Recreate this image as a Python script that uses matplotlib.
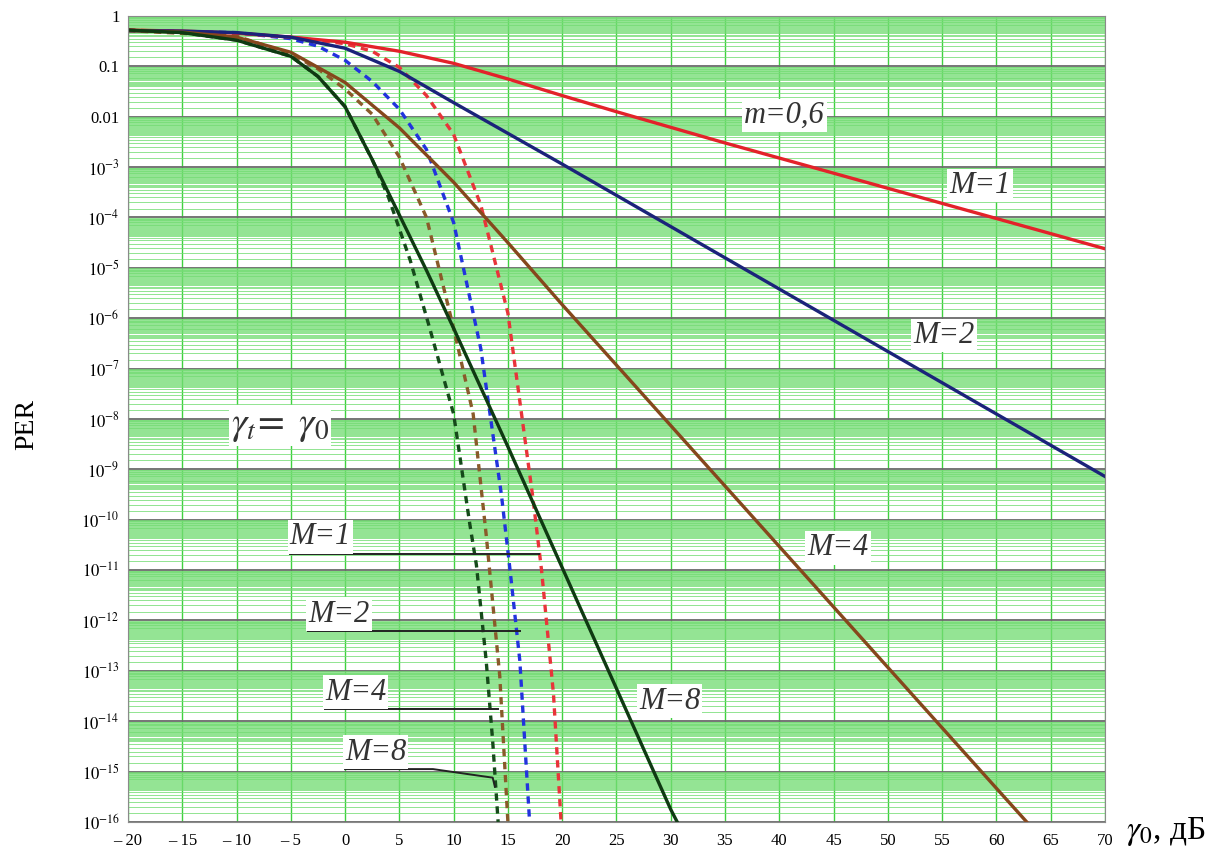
import numpy as np
import matplotlib.pyplot as plt

plt.rcParams['font.family'] = ['Liberation Serif', 'DejaVu Serif']
plt.rcParams['mathtext.fontset'] = 'stix'

# gamma_0 in dB and log10(PER)
# solid curves: m=0,6, M = 1, 2, 4, 8
x_m1 = [-20, -15, -10, -5, 0, 5, 10, 15, 20, 25, 30, 35, 40, 45, 50, 55, 60, 65, 70]
lg_m1 = [-0.28, -0.30, -0.34, -0.42, -0.52, -0.70, -0.94, -1.25, -1.58, -1.90,
         -2.21, -2.52, -2.82, -3.12, -3.42, -3.72, -4.02, -4.32, -4.62]

x_m2 = [-20, -15, -10, -5, 0, 5, 10, 15, 20, 25, 30, 35, 40, 45, 50, 55, 60, 65, 70]
lg_m2 = [-0.29, -0.30, -0.33, -0.42, -0.64, -1.10, -1.72, -2.33, -2.94, -3.56,
         -4.18, -4.80, -5.42, -6.04, -6.66, -7.28, -7.90, -8.52, -9.14]

x_m4 = [-20, -15, -10, -5, 0, 5, 10, 15, 20, 25, 30, 35, 40, 45, 50, 55, 60, 62.8]
lg_m4 = [-0.29, -0.32, -0.42, -0.72, -1.32, -2.22, -3.30, -4.50, -5.73, -6.93,
         -8.13, -9.33, -10.53, -11.73, -12.93, -14.13, -15.33, -16.0]

x_m8 = [-20, -15, -10, -5, -2.5, 0, 2.5, 5, 7.5, 10, 15, 20, 25, 30, 30.6]
lg_m8 = [-0.28, -0.33, -0.48, -0.80, -1.20, -1.80, -2.85, -3.95, -5.05, -6.20,
         -8.55, -10.95, -13.35, -15.75, -16.0]

# dashed curves (gamma_t = gamma_0)
xd_m1 = [-20, -10, -5, 0, 2.5, 5, 7.5, 10, 12.5, 15, 17.3, 18.1, 19.2, 19.9]
lgd_m1 = [-0.28, -0.34, -0.42, -0.55, -0.70, -1.02, -1.58, -2.35, -3.75, -5.90,
          -9.56, -11.0, -13.46, -16.0]

xd_m2 = [-20, -10, -5, -2.5, 0, 2.5, 5, 7.5, 10, 12.5, 14.4, 15.2, 16.1, 17.0]
lgd_m2 = [-0.29, -0.33, -0.45, -0.60, -0.88, -1.30, -1.85, -2.65, -4.10, -6.60,
          -9.50, -11.0, -12.8, -16.0]

xd_m4 = [-20, -10, -5, -2.5, 0, 2.5, 5, 7.5, 10, 11.8, 13, 14.25, 15]
lgd_m4 = [-0.29, -0.40, -0.75, -1.05, -1.45, -1.95, -2.80, -4.00, -6.20, -7.90,
          -10.3, -13.1, -16.0]

xd_m8 = [-20, -15, -10, -5, -2.5, 0, 2.5, 4, 6, 7.8, 10, 11.5, 12.1, 13, 13.6, 14.1]
lgd_m8 = [-0.28, -0.33, -0.48, -0.80, -1.20, -1.80, -2.85, -3.60, -4.85, -6.20,
          -7.90, -10.1, -10.9, -12.8, -14.4, -16.0]

x_ticks = list(range(-20, 75, 5))
x_labels = [f"\u2013 {-v}" if v < 0 else str(v) for v in x_ticks]
y_exps = list(range(0, -17, -1))
y_labels = ['1', '0.1', '0.01'] + [rf'$10^{{{e}}}$' for e in y_exps[3:]]

fig = plt.figure(figsize=(12.27, 8.55), dpi=100)
ax = fig.add_axes([0.1043, 0.0386, 0.7962, 0.9427])
ax.set_yscale('log')

solid = [(x_m1, lg_m1, '#e3222a'), (x_m2, lg_m2, '#1b237a'),
         (x_m4, lg_m4, '#86471c'), (x_m8, lg_m8, '#0f3a12')]
dashed = [(xd_m1, lgd_m1, '#e8343a'), (xd_m2, lgd_m2, '#2233dd'),
          (xd_m4, lgd_m4, '#8a5a2a'), (xd_m8, lgd_m8, '#154a1a')]
for xs, lg, c in dashed:
    ax.plot(xs, 10.0 ** np.array(lg), color=c, lw=2.4, ls=(0, (2.2, 1.7)))
for xs, lg, c in solid:
    ax.plot(xs, 10.0 ** np.array(lg), color=c, lw=2.4)

ax.set_xlim(-20, 70)
ax.set_ylim(1e-16, 1)

# grid in the Mathcad style: sparse lines low in a decade, dense band at the top
minor = []
for e in range(-16, 0):
    for m in [1.5, 2, 2.5, 3, 3.5] + list(np.arange(4, 10, 0.25)):
        minor.append(m * 10.0 ** e)
ax.set_yticks(minor, minor=True)
ax.set_yticklabels([], minor=True)
ax.set_yticks([10.0 ** e for e in y_exps], y_labels)
ax.set_xticks(x_ticks, x_labels)
ax.grid(which='minor', axis='y', color='#74dc74', lw=0.55)
ax.grid(which='major', axis='y', color='#6a6a6a', lw=1.3)
ax.grid(which='major', axis='x', color='#3fd13f', lw=1.0)
ax.set_axisbelow(True)

ax.tick_params(which='both', length=0)
ax.tick_params(axis='y', labelsize=12, pad=6)
ax.tick_params(axis='x', labelsize=12, pad=8)
for s in ax.spines.values():
    s.set_color('#8a8a8a')

box = dict(facecolor='white', edgecolor='none', pad=1.5)
txt = dict(style='italic', fontsize=22, color='#333333')
ax.text(40.5, 10 ** -1.97, 'm=0,6', ha='center', va='center', bbox=box, **txt)
ax.text(58.5, 10 ** -3.36, 'M=1', ha='center', va='center', bbox=box, **txt)
ax.text(55.2, 10 ** -6.34, 'M=2', ha='center', va='center', bbox=box, **txt)
ax.text(45.4, 10 ** -10.56, 'M=4', ha='center', va='center', bbox=box, **txt)
ax.text(29.9, 10 ** -13.6, 'M=8', ha='center', va='center', bbox=box, **txt)
ax.text(-6.0, 10 ** -8.13, r'$\gamma_t\!=\ \gamma_0$', ha='center', va='center',
        fontsize=28, color='#333333', bbox=box)

# labels of the dashed curves with leader lines
leaders = [('M=1', [-5.1, 17.9], [-10.68, -10.68]),
           ('M=2', [-3.4, 16.1], [-12.21, -12.21]),
           ('M=4', [-1.86, 14.07], [-13.76, -13.76]),
           ('M=8', [0.0, 8.1, 13.6, 13.8], [-14.95, -14.95, -15.12, -15.3])]
for lab, xs, lg in leaders:
    ax.plot(xs, 10.0 ** np.array(lg), color='#222222', lw=1.4)
    ax.text(xs[0], 10 ** (lg[0] + 0.05), lab, ha='left', va='bottom', bbox=box, **txt)

fig.text(0.022, 0.503, 'PER', rotation=90, ha='center', va='center', fontsize=20)
fig.text(0.918, 0.027, r'$\gamma_0$, дБ', ha='left', va='center', fontsize=24)

fig.savefig('out.png', dpi=100)
